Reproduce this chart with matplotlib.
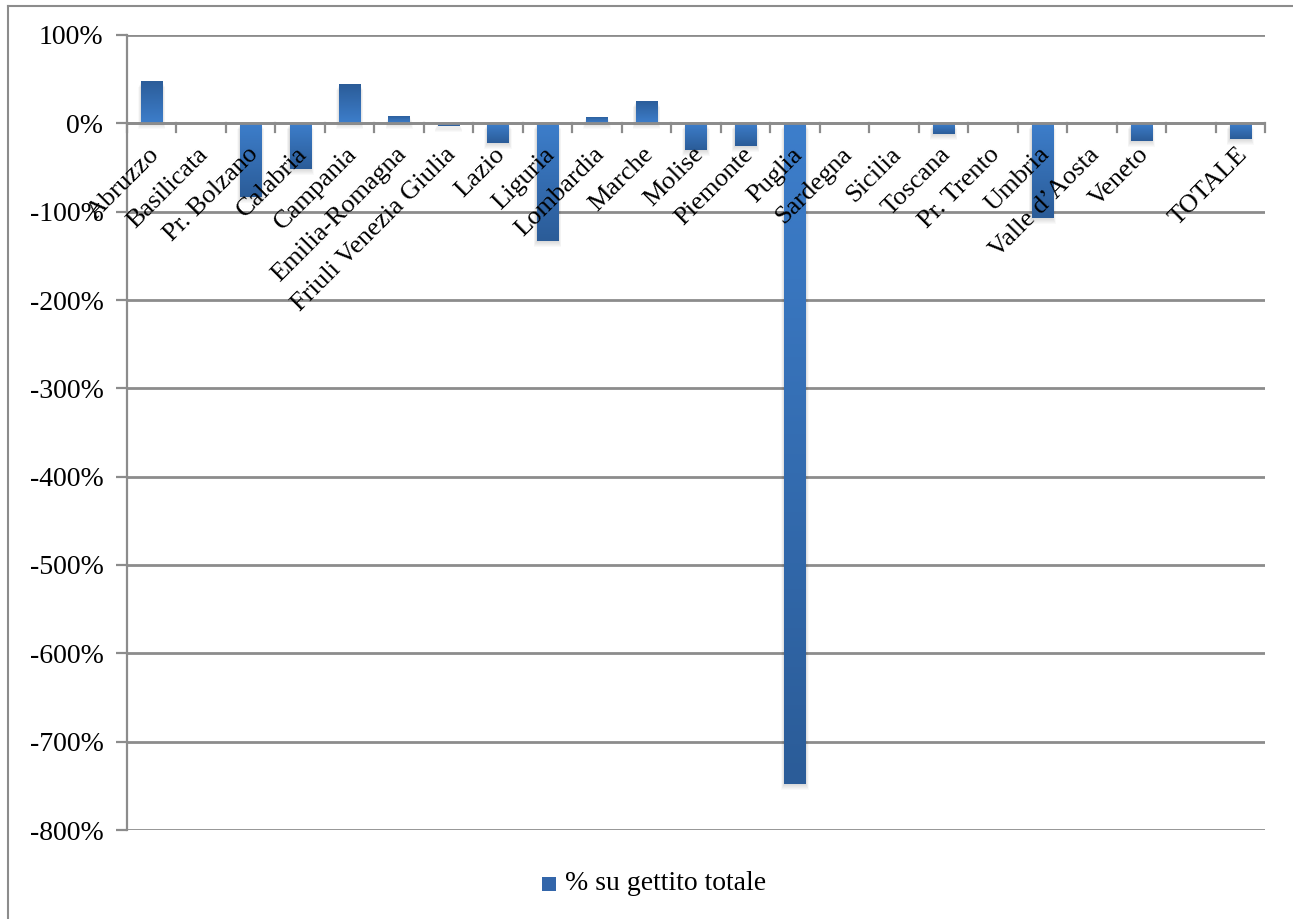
import matplotlib
matplotlib.use("Agg")
import matplotlib.pyplot as plt
import numpy as np
from matplotlib.lines import Line2D
from matplotlib.colors import LinearSegmentedColormap
from matplotlib.patches import Rectangle
from matplotlib.transforms import offset_copy

categories = ["Abruzzo", "Basilicata", "Pr. Bolzano", "Calabria", "Campania",
              "Emilia-Romagna", "Friuli Venezia Giulia", "Lazio", "Liguria",
              "Lombardia", "Marche", "Molise", "Piemonte", "Puglia", "Sardegna",
              "Sicilia", "Toscana", "Pr. Trento", "Umbria", "Valle d\u2019Aosta",
              "Veneto", "", "TOTALE"]
values = [48, 0, -83, -52, 44, 8, -3, -22, -133, 7, 25.5, -30.5, -26, -747.5,
          0, 0, -12, 0, -107, 0, -20, np.nan, -18]
yticks = [100, 0, -100, -200, -300, -400, -500, -600, -700, -800]
series_name = "% su gettito totale"

serif = ["Liberation Serif", "DejaVu Serif"]
plt.rcParams["font.family"] = serif

fig = plt.figure(figsize=(12.93, 9.19), dpi=100)
ax = fig.add_axes([127/1293, 1 - 830/919, (1265-127)/1293, (830-35)/919])

x = np.arange(len(categories))
vals = np.array(values, dtype=float)
bars = ax.bar(x, np.nan_to_num(vals), width=0.43, color="#3a74bd", zorder=3,
              linewidth=0)

cmap = LinearSegmentedColormap.from_list("g", ["#2b5c98", "#3d7ecb"])
grad = np.linspace(0, 1, 256).reshape(-1, 1)
px = 900 / (830 - 35)  # data units per pixel
for b, v in zip(bars, vals):
    bb = b.get_bbox()
    if np.isnan(v):
        b.set_visible(False)
        continue
    # soft shadow below each bar
    for i in range(1, 7):
        sh = Rectangle((b.get_x() - 0.01 * i, min(0, v) - i * px),
                       b.get_width() + 0.02 * i, max(abs(v), 0.5),
                       facecolor="#000000", alpha=0.025, linewidth=0, zorder=2)
        ax.add_patch(sh)
    if abs(v) < 0.5:
        b.set_visible(False)
        continue
    im = ax.imshow(grad, cmap=cmap, aspect="auto", zorder=3.5,
                   extent=[bb.x0, bb.x1, bb.y0, bb.y1], origin="upper")
    im.set_clip_path(b)

ax.set_xlim(-0.5, len(categories) - 0.5)
ax.set_ylim(-800, 100)
ax.set_yticks(yticks)
ax.set_yticklabels([f"{t}%" for t in yticks], fontsize=20)
ax.yaxis.grid(True, color="#8c8c8c", linewidth=2.0, zorder=1)
ax.set_axisbelow(True)
for s in ["top", "right", "bottom"]:
    ax.spines[s].set_visible(False)
ax.spines["left"].set_color("#8c8c8c")
ax.spines["left"].set_linewidth(1.6)
ax.tick_params(axis="y", length=8, width=1.6, color="#8c8c8c", pad=9)

# x axis at zero line with category boundary ticks
ax.set_xticks([])
ax.axhline(0, color="#8c8c8c", linewidth=2.0, zorder=4)
for k in range(len(categories) + 1):
    ln = Line2D([k - 0.5, k - 0.5], [0, -9.5], color="#8c8c8c", lw=1.6, zorder=4,
                clip_on=False)
    ax.add_line(ln)

for xi, lab in zip(x, categories):
    if not lab:
        continue
    t = offset_copy(ax.transData, fig=fig, x=-4, y=-20, units="dots")
    ax.text(xi, 0, lab, transform=t, rotation=45, rotation_mode="anchor",
            ha="right", va="top", fontsize=19, zorder=5)

# legend
lx, ly = 542/1293, 1 - 884/919
fig.patches.append(Rectangle((lx, ly - 7/919), 14/1293, 14/919,
                             transform=fig.transFigure, facecolor="#3366aa",
                             edgecolor="none"))
fig.text(lx + 23/1293, ly, series_name, fontsize=20, va="center", ha="left")

# outer border
fig.add_artist(Line2D([8/1293, 8/1293], [0, 1 - 6/919], transform=fig.transFigure,
                      color="#8c8c8c", lw=1.5))
fig.add_artist(Line2D([8/1293, 1], [1 - 6/919, 1 - 6/919], transform=fig.transFigure,
                      color="#8c8c8c", lw=1.5))

fig.savefig("out.png", dpi=100)
